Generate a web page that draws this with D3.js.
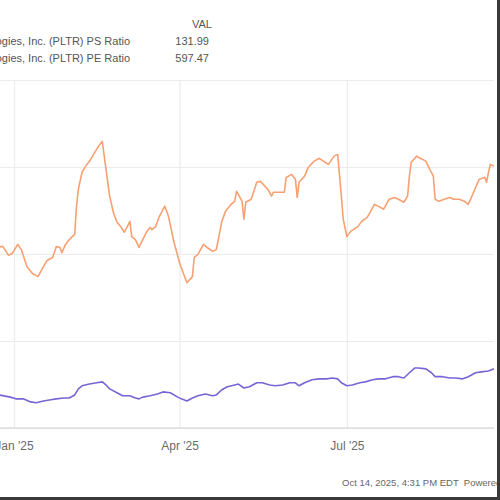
<!DOCTYPE html>
<html>
<head>
<meta charset="utf-8">
<script src="https://cdn.jsdelivr.net/npm/d3@7"></script>
<style>
  html, body { margin: 0; padding: 0; background: #fff; }
  svg { display: block; font-family: Arial, "Liberation Sans", sans-serif; }
</style>
</head>
<body>
<svg id="chart" width="500" height="500"></svg>
<script>
// ---- Data ----
const seriesNames = ["Palantir Technologies, Inc. (PLTR) PS Ratio", "Palantir Technologies, Inc. (PLTR) PE Ratio"];
const seriesLast = ["131.99", "597.47"];
const xTickDates = ["2025-01-01", "2025-04-01", "2025-07-01", "2025-10-01"];
const yTicks = [0, 200, 400, 600, 800];
const footerText = "Oct 14, 2025, 4:31 PM EDT  Powered by YCHARTS";

const peDates = ["2024-12-24","2024-12-26","2024-12-29","2024-12-31","2025-01-03","2025-01-05","2025-01-08","2025-01-11","2025-01-14","2025-01-17",
"2025-01-19","2025-01-22","2025-01-24","2025-01-26","2025-01-27","2025-01-29","2025-01-31","2025-02-03","2025-02-04","2025-02-05",
"2025-02-07","2025-02-09","2025-02-11","2025-02-14","2025-02-16","2025-02-18","2025-02-20","2025-02-22","2025-02-24","2025-02-26",
"2025-02-28","2025-03-02","2025-03-05","2025-03-06","2025-03-08","2025-03-10","2025-03-12","2025-03-14","2025-03-16","2025-03-17",
"2025-03-19","2025-03-21","2025-03-24","2025-03-26","2025-03-29","2025-04-01","2025-04-03","2025-04-05","2025-04-08","2025-04-09",
"2025-04-11","2025-04-14","2025-04-16","2025-04-19","2025-04-21","2025-04-24","2025-04-26","2025-04-29","2025-05-01","2025-05-02",
"2025-05-03","2025-05-05","2025-05-06","2025-05-07","2025-05-10","2025-05-13","2025-05-15","2025-05-19","2025-05-21","2025-05-22",
"2025-05-25","2025-05-28","2025-05-29","2025-06-01","2025-06-03","2025-06-04","2025-06-05","2025-06-08","2025-06-10","2025-06-13",
"2025-06-16","2025-06-19","2025-06-21","2025-06-24","2025-06-26","2025-06-28","2025-06-29","2025-07-01","2025-07-03","2025-07-07",
"2025-07-09","2025-07-12","2025-07-13","2025-07-16","2025-07-18","2025-07-21","2025-07-24","2025-07-27","2025-07-29","2025-08-01",
"2025-08-03","2025-08-04","2025-08-05","2025-08-08","2025-08-09","2025-08-11","2025-08-13","2025-08-15","2025-08-17","2025-08-18",
"2025-08-20","2025-08-23","2025-08-26","2025-08-28","2025-08-31","2025-09-03","2025-09-05","2025-09-07","2025-09-09","2025-09-11",
"2025-09-14","2025-09-15","2025-09-16","2025-09-17","2025-09-19"];
const peValues = [417,417,397,401,422,410,371,355,348,371,
385,392,417,415,403,422,433,445,510,549,
588,602,613,634,648,659,595,533,496,473,
463,450,475,440,433,415,433,450,461,456,
463,486,510,486,427,380,357,334,348,392,
399,422,415,406,410,475,498,514,521,544,
537,521,480,519,526,565,567,549,533,542,
542,542,576,583,572,530,565,579,599,613,
620,611,606,625,629,533,480,440,452,463,
475,484,491,514,510,503,526,530,526,519,
533,579,611,625,622,618,613,595,579,526,
521,526,530,526,526,521,514,533,553,572,
576,565,588,606,602];

const psDates = ["2024-12-24","2024-12-30","2025-01-02","2025-01-06","2025-01-10","2025-01-13","2025-01-17","2025-01-21","2025-01-24","2025-01-28",
"2025-01-31","2025-02-03","2025-02-05","2025-02-07","2025-02-11","2025-02-15","2025-02-18","2025-02-20","2025-02-22","2025-02-26",
"2025-03-01","2025-03-05","2025-03-08","2025-03-10","2025-03-12","2025-03-16","2025-03-20","2025-03-23","2025-03-27","2025-03-31",
"2025-04-02","2025-04-05","2025-04-08","2025-04-11","2025-04-15","2025-04-19","2025-04-21","2025-04-24","2025-04-27","2025-05-01",
"2025-05-03","2025-05-06","2025-05-09","2025-05-13","2025-05-16","2025-05-20","2025-05-23","2025-05-27","2025-05-31","2025-06-03",
"2025-06-05","2025-06-08","2025-06-12","2025-06-16","2025-06-20","2025-06-23","2025-06-26","2025-06-28","2025-07-01","2025-07-04",
"2025-07-08","2025-07-11","2025-07-15","2025-07-18","2025-07-22","2025-07-26","2025-07-29","2025-08-01","2025-08-04","2025-08-07",
"2025-08-09","2025-08-13","2025-08-16","2025-08-18","2025-08-22","2025-08-26","2025-08-29","2025-09-02","2025-09-05","2025-09-09",
"2025-09-12","2025-09-16","2025-09-19"];
const psValues = [76,71,67,67,60,58,62,65,67,69,
69,76,90,97,101,104,106,99,90,81,
74,74,69,67,71,74,78,83,81,71,
67,62,69,74,78,74,76,88,95,99,
101,92,95,104,104,99,97,99,104,104,
97,104,111,113,113,115,113,104,97,99,
104,106,111,113,113,118,118,115,127,138,
138,136,127,118,118,115,115,113,118,127,
129,131,136];

const colors = { ps: "#7566d6", pe: "#f7a072" };

// ---- Drawing ----
const svg = d3.select("#chart");
const parse = d3.timeParse("%Y-%m-%d");
const W = 500, H = 500;
const plot = { left: 0, right: 494, top: 80, bottom: 428 };

const x = d3.scaleTime()
  .domain([new Date(2024, 11, 24, 9), new Date(2025, 8, 19)])
  .range([plot.left, plot.right]);
const y = d3.scaleLinear().domain([0, 800]).range([plot.bottom, plot.top]);

svg.append("rect").attr("width", W).attr("height", H).attr("fill", "#fff");

// horizontal gridlines
const gy = svg.append("g").attr("transform", `translate(${plot.right},0)`)
  .call(d3.axisLeft(y).tickValues(yTicks).tickSize(plot.right - plot.left).tickFormat(""));
gy.select(".domain").remove();
gy.selectAll(".tick line").attr("stroke", "#ebebeb").attr("stroke-width", 1.2);

// vertical gridlines + labels
const xTicks = xTickDates.map(parse);
const gx = svg.append("g").attr("transform", `translate(0,${plot.bottom})`)
  .call(d3.axisBottom(x).tickValues(xTicks).tickSize(-(plot.bottom - plot.top))
    .tickPadding(10).tickFormat(d3.timeFormat("%b '%y")));
gx.select(".domain").remove();
gx.selectAll(".tick line").attr("stroke", "#ececec").attr("stroke-width", 1.2);
gx.selectAll(".tick text").attr("fill", "#6b6b6b").attr("font-size", 12).attr("dy", "1.0em");

// baseline
svg.append("line").attr("x1", plot.left).attr("x2", plot.right)
  .attr("y1", y(0)).attr("y2", y(0)).attr("stroke", "#dcdcdc").attr("stroke-width", 1.5);

// lines
const clip = svg.append("clipPath").attr("id", "clip").append("rect")
  .attr("x", plot.left).attr("y", 0).attr("width", plot.right - plot.left + 2).attr("height", plot.bottom);

const line = d3.line().x(d => x(d.date)).y(d => y(d.value));
const peData = peDates.map((d, i) => ({ date: parse(d), value: peValues[i] }));
const psData = psDates.map((d, i) => ({ date: parse(d), value: psValues[i] }));

const lines = svg.append("g").attr("clip-path", "url(#clip)");
lines.append("path").datum(peData).attr("d", line)
  .attr("fill", "none").attr("stroke", colors.pe).attr("stroke-width", 1.6).attr("stroke-linejoin", "round");
lines.append("path").datum(psData).attr("d", line)
  .attr("fill", "none").attr("stroke", colors.ps).attr("stroke-width", 1.6).attr("stroke-linejoin", "round");

// legend table (cropped on the left)
const leg = svg.append("g").attr("font-size", 11).attr("fill", "#555");
leg.append("text").attr("x", 212).attr("y", 28).attr("text-anchor", "end").text("VAL");
seriesNames.forEach((name, i) => {
  leg.append("text").attr("x", 130).attr("y", 45 + i * 17).attr("text-anchor", "end").text(name);
  leg.append("text").attr("x", 209).attr("y", 45 + i * 17).attr("text-anchor", "end").text(seriesLast[i]);
});

// footer
svg.append("text").attr("x", 342).attr("y", 486).attr("font-size", 9.5).attr("fill", "#666")
  .attr("xml:space", "preserve").text(footerText);

// dark crop borders on right and bottom
svg.append("rect").attr("x", 497).attr("y", 0).attr("width", 3).attr("height", H).attr("fill", "#3a3a3a");
svg.append("rect").attr("x", 0).attr("y", 497).attr("width", W).attr("height", 3).attr("fill", "#3a3a3a");
</script>
</body>
</html>
